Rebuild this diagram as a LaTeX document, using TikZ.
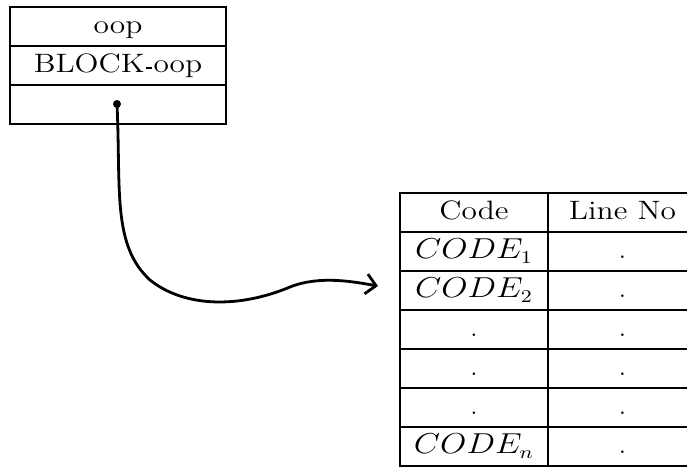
\documentclass[tikz,border=0pt]{standalone}
\usepackage{graphicx}
\usetikzlibrary{arrows.meta}

% short raised dash, as in the block name
\newcommand\blockdash{\kern0.05em\rule[0.15em]{0.18em}{0.07em}\kern0.05em}
% text is set a little wider than the font
\newcommand\wide[1]{\scalebox{1.18}[1]{#1}}

\tikzset{
  slot/.style={draw, line width=0.7pt, inner sep=0pt, minimum width=108pt,
    minimum height=19.5pt, text height=9.5pt, text depth=2.3pt},
  cell/.style={draw, line width=0.9pt, inner sep=0pt, minimum height=19.5pt,
    text height=9.5pt, text depth=2.3pt},
  codecol/.style={cell, minimum width=74pt},
  linecol/.style={cell, minimum width=74.5pt},
}

\begin{document}
\begin{tikzpicture}[x=0.5pt, y=-0.5pt]
  \useasboundingbox (0,0) rectangle (687,468);
  \clip (0,0) rectangle (687,468);
  \fontsize{13.3}{16}\selectfont

  % the block record
  \node[slot] (name) at (118,26.5) {\wide{oop}};
  \node[slot] (block) at (118,65.5) {\wide{BLOCK\blockdash oop}};
  \node[slot] (ptrslot) at (118,104.5) {};
  \node[circle, fill, inner sep=0pt, minimum size=4pt] (ptr) at (117,104) {};

  % the code table
  \node[codecol] (codehead) at (474,212.5) {\wide{Code}};
  \node[linecol] (linehead) at (622.5,212.5) {\wide{Line No}};
  \node[codecol] (code1) at (474,251.5) {\wide{$CODE_1$}};
  \node[linecol] (line1) at (622.5,251.5) {.};
  \node[codecol] (code2) at (474,290.5) {\wide{$CODE_2$}};
  \node[linecol] (line2) at (622.5,290.5) {.};
  \node[codecol] (code3) at (474,329.5) {.};
  \node[linecol] (line3) at (622.5,329.5) {.};
  \node[codecol] (code4) at (474,368.5) {.};
  \node[linecol] (line4) at (622.5,368.5) {.};
  \node[codecol] (code5) at (474,407.5) {.};
  \node[linecol] (line5) at (622.5,407.5) {.};
  \node[codecol] (coden) at (474,446.5) {\wide{$CODE_n$}};
  \node[linecol] (linen) at (622.5,446.5) {.};

  % pointer into the table
  \coordinate (tip) at (378,286);
  \draw[line width=1.4pt, -{Straight Barb[length=5pt, width=10pt]}]
    (ptr.center) .. controls (121,190) and (112,245) .. (150,280)
    .. controls (185,308) and (240,308) .. (290,287)
    .. controls (320,275) and (355,282) .. (tip);
\end{tikzpicture}
\end{document}
